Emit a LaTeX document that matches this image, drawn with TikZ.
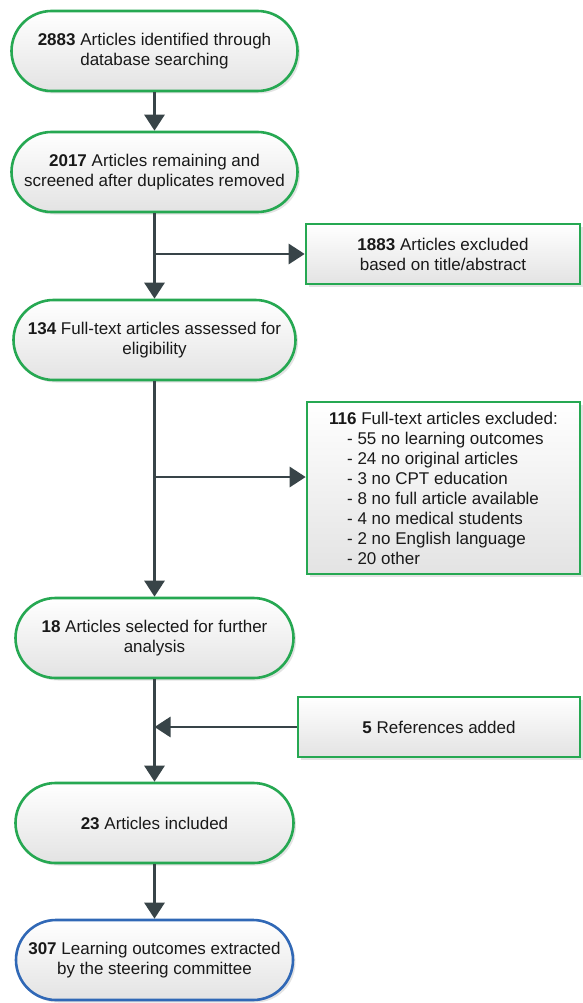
\documentclass[tikz,border=0pt]{standalone}
\usepackage{fontspec}
\setmainfont{Liberation Sans}
\usepackage{tikz}
\usetikzlibrary{arrows.meta,shadows}
\definecolor{boxgreen}{RGB}{38,168,82}
\definecolor{boxblue}{RGB}{48,104,182}
\definecolor{arrowgray}{RGB}{56,68,72}
\newcommand{\nb}[1]{\textbf{#1}}
\newcommand{\ind}{\hspace*{18pt}}

\begin{document}
\begin{tikzpicture}[x=1pt,y=1pt,
	base/.style={draw=boxgreen, line width=2.6pt, top color=white, bottom color=black!11, text=black!90, font=\fontsize{17}{20}\selectfont, align=center, drop shadow={shadow xshift=2.5pt,shadow yshift=-2.5pt,opacity=.22}},
	stage/.style={base, rounded corners=40pt, minimum width=280pt, minimum height=80pt, inner sep=3pt},
	excl/.style={base, minimum width=274pt, minimum height=60pt},
	flow/.style={-{Triangle[width=20pt,length=16pt]}, every edge/.append style={draw=arrowgray, line width=2.8pt}}]
			\useasboundingbox (0,0) rectangle (582,-1003);
			\node[stage, minimum width=286pt] (ident) at (154.5,-51) {\nb{2883} Articles identified through\\database searching};
			\node[stage, minimum width=286pt] (screen) at (154.5,-172) {\nb{2017} Articles remaining and\\screened after duplicates removed};
			\node[excl] (extitle) at (443,-254) {\nb{1883} Articles excluded\\based on title/abstract};
			\node[stage, minimum width=282pt] (fulltext) at (154.5,-340) {\nb{134} Full-text articles assessed for\\eligibility};
			\node[excl, minimum width=273pt, minimum height=172pt, align=left] (exfull) at (443.5,-488) {\nb{116} Full-text articles excluded:\\\ind- 55 no learning outcomes\\\ind- 24 no original articles\\\ind- 3 no CPT education\\\ind- 8 no full article available\\\ind- 4 no medical students\\\ind- 2 no English language\\\ind- 20 other};
			\node[stage, minimum width=278pt] (select) at (154.5,-638) {\nb{18} Articles selected for further\\analysis};
			\node[excl, minimum width=282pt] (refs) at (439,-727) {\nb{5} References added};
			\node[stage, minimum width=278pt] (incl) at (154.5,-823) {\nb{23} Articles included};
			\node[stage, minimum width=277pt, draw=boxblue] (outcome) at (154.5,-960) {\nb{307} Learning outcomes extracted\\by the steering committee};
			\coordinate (j1) at (screen |- extitle);
			\coordinate (e2) at ([yshift=11pt]exfull.west);
			\coordinate (j2) at (fulltext |- e2);
			\coordinate (j3) at (select |- refs);
			\path[flow]
			(ident) edge (screen)
			(screen) edge (fulltext)
			(j1) edge (extitle)
			(fulltext) edge (select)
			(j2) edge (e2)
			(select) edge (incl)
			(refs) edge (j3)
			(incl) edge (outcome);
		\end{tikzpicture}
\end{document}
